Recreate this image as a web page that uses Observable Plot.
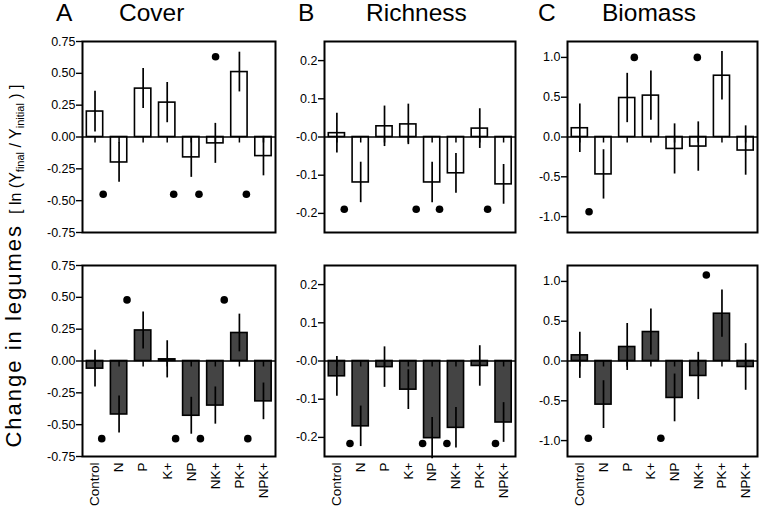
<!DOCTYPE html>
<html><head><meta charset="utf-8">
<script src="https://cdn.jsdelivr.net/npm/d3@7"></script>
<script src="https://cdn.jsdelivr.net/npm/@observablehq/plot@0.6"></script>
<style>
body{margin:0;background:#fff;}
#wrap{position:relative;width:762px;height:508px;overflow:hidden;font-family:"Liberation Sans",Arial,sans-serif;background:#fff;}
</style></head><body><div id="wrap"></div>
<script>
const categories = ["Control","N","P","K+","NP","NK+","PK+","NPK+"];

// Top row (open bars)
const coverTop   = [0.20, -0.20, 0.38, 0.27, -0.16, -0.05, 0.51, -0.15];
const coverTopSE = [0.16, 0.156, 0.157, 0.158, 0.157, 0.157, 0.156, 0.155];
const coverTopDotX = [0.34, 3.27, 4.32, 5.01, 6.29];
const coverTopDotY = [-0.45, -0.45, -0.45, 0.63, -0.45];

const richTop   = [0.010, -0.119, 0.028, 0.033, -0.119, -0.095, 0.022, -0.124];
const richTopSE = [0.052, 0.053, 0.053, 0.053, 0.053, 0.052, 0.052, 0.052];
const richTopDotX = [0.31, 3.33, 4.31, 6.33];
const richTopDotY = [-0.189, -0.189, -0.189, -0.189];

const bioTop   = [0.11, -0.47, 0.49, 0.52, -0.15, -0.12, 0.77, -0.17];
const bioTopSE = [0.305, 0.31, 0.31, 0.31, 0.315, 0.31, 0.305, 0.31];
const bioTopDotX = [0.39, 2.30, 4.96];
const bioTopDotY = [-0.94, 1.0, 1.0];

// Bottom row (filled bars)
const coverBot   = [-0.06, -0.42, 0.24, 0.013, -0.43, -0.35, 0.22, -0.317];
const coverBotSE = [0.144, 0.145, 0.145, 0.146, 0.145, 0.146, 0.148, 0.144];
const coverBotDotX = [0.28, 1.33, 3.35, 4.38, 5.37, 6.35];
const coverBotDotY = [-0.61, 0.48, -0.61, -0.61, 0.48, -0.61];

const richBot   = [-0.040, -0.171, -0.016, -0.075, -0.202, -0.175, -0.013, -0.161];
const richBotSE = [0.052, 0.053, 0.053, 0.052, 0.054, 0.053, 0.053, 0.052];
const richBotDotX = [0.55, 3.60, 4.62, 6.66];
const richBotDotY = [-0.216, -0.216, -0.216, -0.216];

const bioBot   = [0.071, -0.548, 0.176, 0.364, -0.464, -0.188, 0.594, -0.075];
const bioBotSE = [0.29, 0.30, 0.295, 0.29, 0.30, 0.297, 0.297, 0.293];
const bioBotDotX = [0.36, 3.42, 5.34];
const bioBotDotY = [-0.97, -0.97, 1.08];

// Axis ticks
const coverTicks = [0.75, 0.5, 0.25, 0, -0.25, -0.5, -0.75];
const coverTickLabels = ["0.75","0.50","0.25","0.00","-0.25","-0.50","-0.75"];
const richTicks = [0.2, 0.1, 0, -0.1, -0.2];
const richTickLabels = ["0.2","0.1","-0.0","-0.1","-0.2"];
const bioTicks = [1, 0.5, 0, -0.5, -1];
const bioTickLabels = ["1.0","0.5","0.0","-0.5","-1.0"];

const titles = ["A","B","C"];
const panelNames = ["Cover","Richness","Biomass"];

const wrap = document.getElementById("wrap");
const FONT = '"Liberation Sans", Arial, sans-serif';

function panel(o) {
  const mL = 50, mR = 4, mT = 4, mB = o.showX ? 56 : 4;
  const idx = d3.range(categories.length);
  const rows = idx.map(i => ({i, v: o.values[i], lo: o.values[i] - o.se[i], hi: o.values[i] + o.se[i]}));
  const dots = o.dotX.map((x, j) => ({x, y: o.dotY[j]}));
  const chart = Plot.plot({
    width: o.fx1 - o.fx0 + mL + mR,
    height: o.fy1 - o.fy0 + mT + mB,
    marginLeft: mL, marginRight: mR, marginTop: mT, marginBottom: mB,
    x: {domain: [-0.52, 7.5], axis: null},
    y: {domain: o.domain, axis: null},
    style: {fontFamily: FONT, fontSize: "12px", color: "black", background: "transparent", overflow: "visible"},
    marks: [
      Plot.rectY(rows, {x1: d => d.i - 0.34, x2: d => d.i + 0.34, y1: 0, y2: "v", fill: o.fill, stroke: "black", strokeWidth: 1.6}),
      Plot.ruleY([0], {stroke: "black", strokeWidth: 1.6}),
      Plot.ruleX(rows, {x: "i", y1: 0, y2: 0, insetBottom: -6, stroke: "black", strokeWidth: 1.5}),
      Plot.ruleX(rows, {x: "i", y1: "lo", y2: "hi", stroke: "black", strokeWidth: 1.7}),
      Plot.dot(dots, {x: "x", y: "y", r: 3.8, fill: "black", stroke: "none"}),
      Plot.frame({stroke: "black", strokeWidth: 2}),
      Plot.axisY({ticks: o.ticks, tickFormat: d => o.labels[o.ticks.indexOf(d)], tickSize: 6, tickPadding: 1, strokeWidth: 1.4}),
      o.showX ? Plot.axisX({ticks: idx, tickFormat: i => categories[i], tickRotate: -90, tickSize: 0, tickPadding: 6}) : null
    ]
  });
  chart.querySelectorAll("text").forEach(t => {
    const tr = t.getAttribute("transform") || "";
    const isX = tr.includes("rotate") || categories.includes(t.textContent);
    const size = isX ? "13.5px" : "12.5px";
    t.setAttribute("font-size", size);
    t.style.fontSize = size;
  });
  chart.style.position = "absolute";
  chart.style.left = (o.fx0 - mL) + "px";
  chart.style.top = (o.fy0 - mT) + "px";
  wrap.appendChild(chart);
}

const cols = [[82, 275], [324, 515], [567, 757]];
const rowsY = [[41, 232], [265, 456]];

panel({values: coverTop, se: coverTopSE, dotX: coverTopDotX, dotY: coverTopDotY, domain: [-0.75, 0.75], ticks: coverTicks, labels: coverTickLabels, fill: "white", showX: false, fx0: cols[0][0], fx1: cols[0][1], fy0: rowsY[0][0], fy1: rowsY[0][1]});
panel({values: richTop, se: richTopSE, dotX: richTopDotX, dotY: richTopDotY, domain: [-0.25, 0.25], ticks: richTicks, labels: richTickLabels, fill: "white", showX: false, fx0: cols[1][0], fx1: cols[1][1], fy0: rowsY[0][0], fy1: rowsY[0][1]});
panel({values: bioTop, se: bioTopSE, dotX: bioTopDotX, dotY: bioTopDotY, domain: [-1.2, 1.2], ticks: bioTicks, labels: bioTickLabels, fill: "white", showX: false, fx0: cols[2][0], fx1: cols[2][1], fy0: rowsY[0][0], fy1: rowsY[0][1]});
panel({values: coverBot, se: coverBotSE, dotX: coverBotDotX, dotY: coverBotDotY, domain: [-0.75, 0.75], ticks: coverTicks, labels: coverTickLabels, fill: "#444", showX: true, fx0: cols[0][0], fx1: cols[0][1], fy0: rowsY[1][0], fy1: rowsY[1][1]});
panel({values: richBot, se: richBotSE, dotX: richBotDotX, dotY: richBotDotY, domain: [-0.25, 0.25], ticks: richTicks, labels: richTickLabels, fill: "#444", showX: true, fx0: cols[1][0], fx1: cols[1][1], fy0: rowsY[1][0], fy1: rowsY[1][1]});
panel({values: bioBot, se: bioBotSE, dotX: bioBotDotX, dotY: bioBotDotY, domain: [-1.2, 1.2], ticks: bioTicks, labels: bioTickLabels, fill: "#444", showX: true, fx0: cols[2][0], fx1: cols[2][1], fy0: rowsY[1][0], fy1: rowsY[1][1]});

// Overlay: panel titles and shared y label
const NS = "http://www.w3.org/2000/svg";
const ov = document.createElementNS(NS, "svg");
ov.setAttribute("width", 762); ov.setAttribute("height", 508);
ov.style.position = "absolute"; ov.style.left = "0px"; ov.style.top = "0px"; ov.style.pointerEvents = "none";
ov.style.fontFamily = FONT;
const letterX = [56, 298, 538];
const nameX = [119, 366, 602];
titles.forEach((t, k) => {
  const a = document.createElementNS(NS, "text");
  a.setAttribute("x", letterX[k]); a.setAttribute("y", 21); a.setAttribute("font-size", 24.5); a.textContent = t;
  ov.appendChild(a);
  const b = document.createElementNS(NS, "text");
  b.setAttribute("x", nameX[k]); b.setAttribute("y", 21); b.setAttribute("font-size", 24.5); b.textContent = panelNames[k];
  ov.appendChild(b);
});
const yl = document.createElementNS(NS, "text");
yl.setAttribute("transform", "translate(21,266) rotate(-90)");
yl.setAttribute("text-anchor", "middle");
yl.innerHTML = '<tspan font-size="22" letter-spacing="2">Change in legumes</tspan>' +
  '<tspan font-size="16" dx="10">[ ln (Y</tspan><tspan font-size="11" dy="3">final</tspan>' +
  '<tspan font-size="16" dy="-3"> / Y</tspan><tspan font-size="11" dy="3">initial</tspan>' +
  '<tspan font-size="16" dy="-3"> ) ]</tspan>';
ov.appendChild(yl);
wrap.appendChild(ov);
</script></body></html>
